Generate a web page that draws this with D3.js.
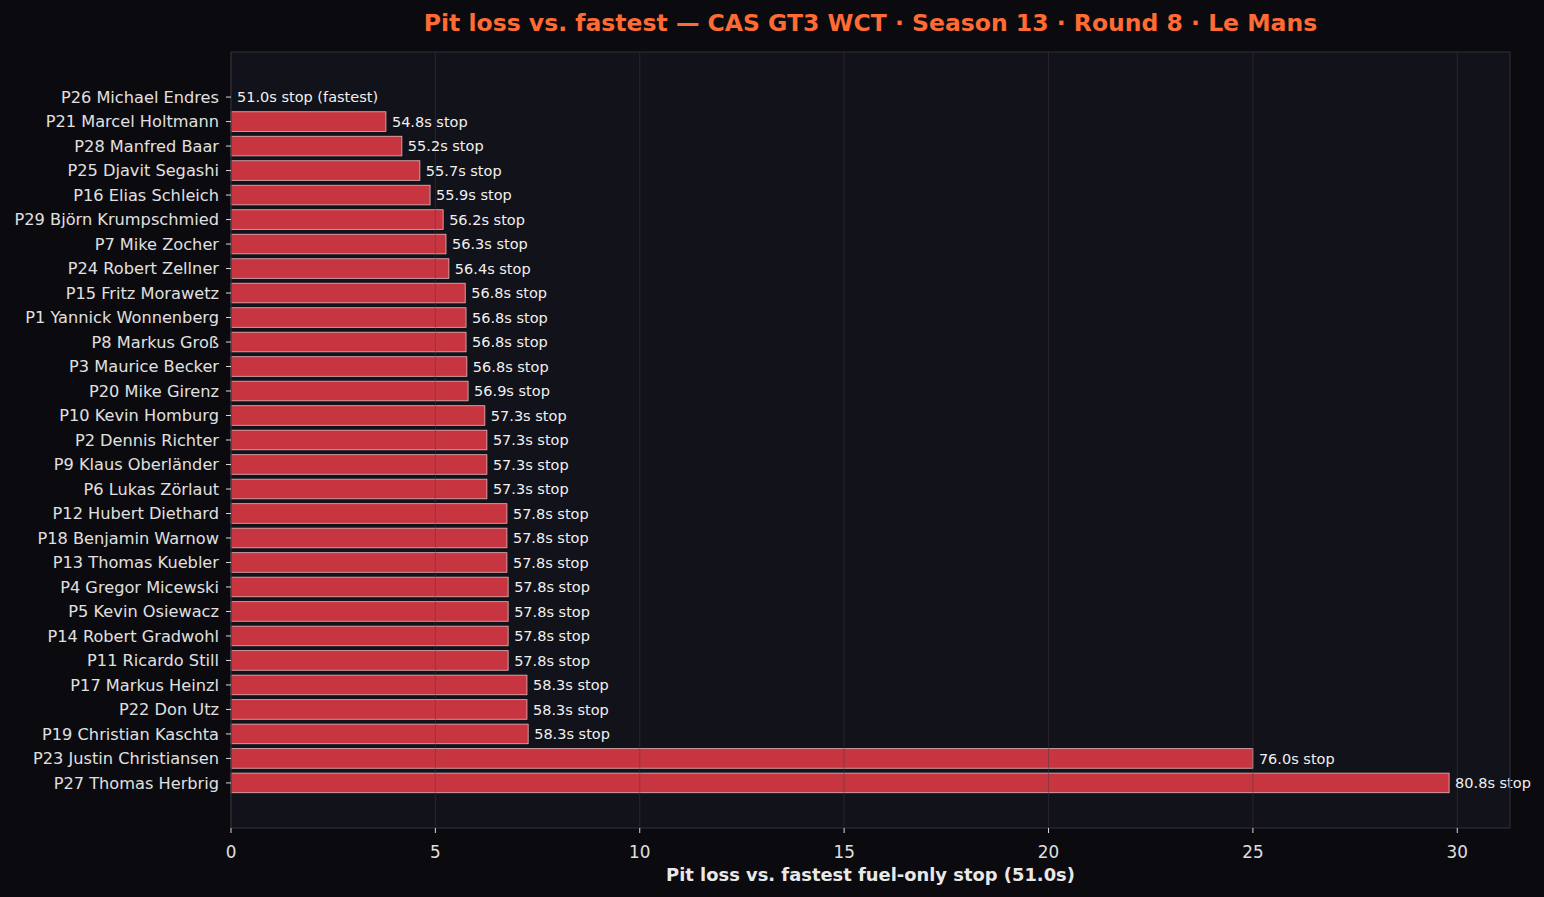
<!DOCTYPE html>
<html>
<head>
<meta charset="utf-8">
<script src="https://cdn.jsdelivr.net/npm/d3@7"></script>
<style>
  html, body { margin: 0; padding: 0; background: #0b0a0e; }
  svg { display: block; font-family: "DejaVu Sans", sans-serif; }
</style>
</head>
<body>
<svg id="chart" width="1544" height="897"></svg>
<script>
// drivers, top to bottom
let drivers = [
    "P26 Michael Endres", "P21 Marcel Holtmann", "P28 Manfred Baar", "P25 Djavit Segashi",
    "P16 Elias Schleich", "P29 Björn Krumpschmied", "P7 Mike Zocher", "P24 Robert Zellner",
    "P15 Fritz Morawetz", "P1 Yannick Wonnenberg", "P8 Markus Groß", "P3 Maurice Becker",
    "P20 Mike Girenz", "P10 Kevin Homburg", "P2 Dennis Richter", "P9 Klaus Oberländer",
    "P6 Lukas Zörlaut", "P12 Hubert Diethard", "P18 Benjamin Warnow", "P13 Thomas Kuebler",
    "P4 Gregor Micewski", "P5 Kevin Osiewacz", "P14 Robert Gradwohl", "P11 Ricardo Still",
    "P17 Markus Heinzl", "P22 Don Utz", "P19 Christian Kaschta", "P23 Justin Christiansen",
    "P27 Thomas Herbrig"
];
// pit loss (s) vs fastest stop
let loss = [
    0.0, 3.79, 4.18, 4.62, 4.87, 5.19, 5.26, 5.33,
    5.73, 5.75, 5.75, 5.77, 5.80, 6.21, 6.26, 6.26,
    6.26, 6.75, 6.75, 6.75, 6.78, 6.78, 6.78, 6.78,
    7.24, 7.24, 7.27, 25.0, 29.8
];
// stop time labels (s)
let stops = [
    "51.0", "54.8", "55.2", "55.7", "55.9", "56.2", "56.3", "56.4",
    "56.8", "56.8", "56.8", "56.8", "56.9", "57.3", "57.3", "57.3",
    "57.3", "57.8", "57.8", "57.8", "57.8", "57.8", "57.8", "57.8",
    "58.3", "58.3", "58.3", "76.0", "80.8"
];
let xTicks = [0, 5, 10, 15, 20, 25, 30];
let fastest = "51.0";

let rows = drivers.map((d, i) => ({name: d, loss: loss[i], stop: stops[i]}));

let svg = d3.select("#chart");
let margin = {left: 231, right: 34, top: 52, bottom: 69};
let W = 1544, H = 897;
let iw = W - margin.left - margin.right;
let ih = H - margin.top - margin.bottom;

let maxLoss = d3.max(loss);
let x = d3.scaleLinear().domain([0, maxLoss * 1.05]).range([0, iw]);

// matplotlib-like y range: bars at integer positions, height 0.8, 5% margins
let n = rows.length;
let lo = -0.4, hi = n - 1 + 0.4;
let pad = (hi - lo) * 0.05;
let y = d3.scaleLinear().domain([lo - pad, hi + pad]).range([0, ih]);
let barH = y(0.8) - y(0);

let g = svg.append("g").attr("transform", `translate(${margin.left},${margin.top})`);

g.append("rect")
    .attr("width", iw).attr("height", ih)
    .style("fill", "#12121a");

let bars = g.selectAll(".data").data(rows);
bars.enter().append("rect")
    .attr("class", "data")
    .attr("x", x(0))
    .attr("y", (d, i) => y(i) - barH / 2)
    .attr("width", (d) => x(d.loss) - x(0))
    .attr("height", barH)
    .style("fill", "#c73540")
    .style("stroke", (d) => d.loss > 0 ? "#e8b8bc" : "none")
    .style("stroke-width", "0.8px");

// grid on top, faint
g.selectAll(".grid").data(xTicks).enter().append("line")
    .attr("class", "grid")
    .attr("x1", (d) => x(d)).attr("x2", (d) => x(d))
    .attr("y1", 0).attr("y2", ih)
    .style("stroke", "#4a3a44")
    .style("stroke-opacity", 0.45)
    .style("stroke-width", "1px");

g.selectAll(".dataLabel").data(rows).enter().append("text")
    .attr("class", "dataLabel")
    .attr("x", (d) => x(d.loss) + 6)
    .attr("y", (d, i) => y(i))
    .attr("dy", "0.35em")
    .style("fill", "#f0f0f0")
    .style("font-size", "14.5px")
    .text((d) => d.stop + "s stop" + (d.loss === 0 ? " (fastest)" : ""));

// frame
g.append("rect")
    .attr("width", iw).attr("height", ih)
    .style("fill", "none")
    .style("stroke", "#2c2c36")
    .style("stroke-width", "1.2px");

// y axis ticks/labels
let yl = g.append("g").attr("class", "ylabels");
rows.forEach((d, i) => {
    yl.append("line")
        .attr("x1", -5).attr("x2", 0)
        .attr("y1", y(i)).attr("y2", y(i))
        .style("stroke", "#d8d8d8");
    yl.append("text")
        .attr("x", -12).attr("y", y(i))
        .attr("dy", "0.36em")
        .attr("text-anchor", "end")
        .style("fill", "#e0e0e0")
        .style("font-size", "16.2px")
        .text(d.name);
});

// x axis
let xa = g.append("g").attr("transform", `translate(0,${ih})`);
xTicks.forEach((t) => {
    xa.append("line")
        .attr("x1", x(t)).attr("x2", x(t))
        .attr("y1", 0).attr("y2", 5)
        .style("stroke", "#d8d8d8");
    xa.append("text")
        .attr("x", x(t)).attr("y", 30)
        .attr("text-anchor", "middle")
        .style("fill", "#e0e0e0")
        .style("font-size", "16.8px")
        .text(t);
});

svg.append("text")
    .attr("x", margin.left + iw / 2).attr("y", 881)
    .attr("text-anchor", "middle")
    .style("fill", "#e8e8e8")
    .style("font-size", "17.9px")
    .style("font-weight", "bold")
    .text(`Pit loss vs. fastest fuel-only stop (${fastest}s)`);

svg.append("text")
    .attr("x", margin.left + iw / 2).attr("y", 31)
    .attr("text-anchor", "middle")
    .style("fill", "#ff6b35")
    .style("font-size", "23.5px")
    .style("font-weight", "bold")
    .text("Pit loss vs. fastest — CAS GT3 WCT · Season 13 · Round 8 · Le Mans");
</script>
</body>
</html>
